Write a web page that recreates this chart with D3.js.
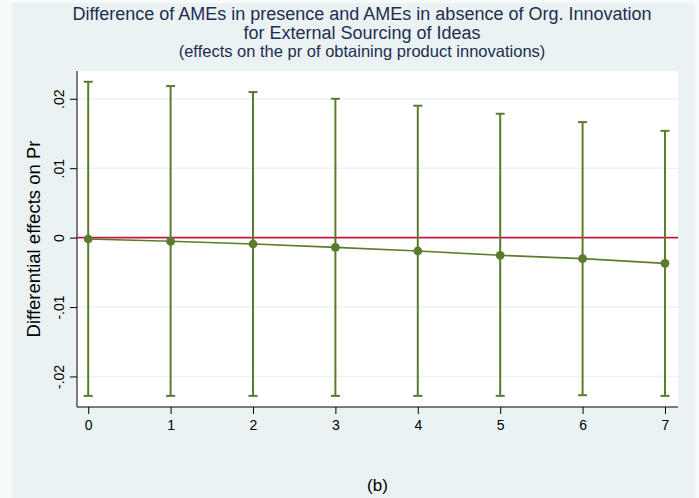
<!DOCTYPE html>
<html>
<head>
<meta charset="utf-8">
<script src="https://cdn.jsdelivr.net/npm/d3@7"></script>
<style>
  body { margin: 0; background: #f6fafb; }
  text { font-family: "Liberation Sans", Arial, sans-serif; }
</style>
</head>
<body>
<div id="container"></div>
<script>
/* DATA */
const xValues = [0, 1, 2, 3, 4, 5, 6, 7];
const estimates = [-0.0002, -0.00053, -0.00092, -0.0014, -0.00193, -0.00255, -0.00303, -0.00371];
const upperCI = [0.02245, 0.02183, 0.02097, 0.0200, 0.0190, 0.01784, 0.01664, 0.01538];
const lowerCI = [-0.0228, -0.0228, -0.0228, -0.0228, -0.0228, -0.0228, -0.0227, -0.0228];
const yTicks = [-0.02, -0.01, 0, 0.01, 0.02];
const yTickLabels = ["-.02", "-.01", "0", ".01", ".02"];
const titleLines = [
  "Difference of AMEs in presence and AMEs in absence of Org. Innovation",
  "for External Sourcing of Ideas"
];
const subtitle = "(effects on the pr of obtaining product innovations)";
const yTitle = "Differential effects on Pr";
const note = "(b)";

/* CONSTANTS */
const width = 699, height = 498;
const plot = { left: 77, right: 678, top: 71, bottom: 407 };
const green = "#5b7c2d", red = "#c8173d", bg = "#eaf2f3";

const svg = d3.select("#container").append("svg")
  .attr("width", width).attr("height", height);

// graph region
svg.append("rect").attr("x", 12).attr("y", 3).attr("width", 683).attr("height", 495)
  .attr("fill", bg);
// plot region
svg.append("rect").attr("x", plot.left).attr("y", plot.top)
  .attr("width", plot.right - plot.left).attr("height", plot.bottom - plot.top)
  .attr("fill", "#ffffff");

// SCALES
const x = d3.scaleLinear().domain([-0.136, 7.158]).range([plot.left, plot.right]);
const y = d3.scaleLinear().domain([-0.0244, 0.0240]).range([plot.bottom, plot.top]);

// GRIDLINES
svg.append("g").selectAll("line").data(yTicks.filter(d => d !== 0)).join("line")
  .attr("x1", plot.left).attr("x2", plot.right)
  .attr("y1", d => y(d)).attr("y2", d => y(d))
  .attr("stroke", bg).attr("stroke-width", 1.5);

// AXES
const xAxis = svg.append("g").attr("transform", `translate(0,${plot.bottom})`)
  .call(d3.axisBottom(x).tickValues(xValues).tickSize(7).tickPadding(6).tickFormat(d3.format("d")));
const yAxis = svg.append("g").attr("transform", `translate(${plot.left},0)`)
  .call(d3.axisLeft(y).tickValues(yTicks).tickSize(7).tickFormat((d, i) => yTickLabels[i]));
[xAxis, yAxis].forEach(g => {
  g.attr("font-size", 14).attr("font-family", "Liberation Sans, Arial, sans-serif");
  g.select(".domain").attr("stroke", "#000").attr("stroke-width", 1);
  g.selectAll(".tick line").attr("stroke", "#000");
  g.selectAll(".tick text").attr("fill", "#000").attr("font-size", 14);
});
xAxis.select(".domain").attr("d", `M${plot.left},0H${plot.right}`);
yAxis.select(".domain").attr("d", `M0,${plot.top}V${plot.bottom}`);
yAxis.selectAll(".tick text")
  .attr("transform", "rotate(-90)")
  .attr("x", 0).attr("y", -13)
  .attr("dy", "0")
  .attr("text-anchor", "middle");

// ZERO LINE
svg.append("line")
  .attr("x1", plot.left).attr("x2", plot.right)
  .attr("y1", y(0)).attr("y2", y(0))
  .attr("stroke", red).attr("stroke-width", 1.6);

// ERROR BARS
const bars = svg.append("g").attr("stroke", green).attr("stroke-width", 2);
xValues.forEach((xv, i) => {
  bars.append("line").attr("x1", x(xv)).attr("x2", x(xv))
    .attr("y1", y(upperCI[i])).attr("y2", y(lowerCI[i]));
  [upperCI[i], lowerCI[i]].forEach(v => {
    bars.append("line").attr("x1", x(xv) - 4.5).attr("x2", x(xv) + 4.5)
      .attr("y1", y(v)).attr("y2", y(v));
  });
});

// LINE + MARKERS
const line = d3.line().x((d, i) => x(xValues[i])).y(d => y(d));
svg.append("path").datum(estimates).attr("d", line)
  .attr("fill", "none").attr("stroke", green).attr("stroke-width", 1.6);
svg.append("g").selectAll("circle").data(estimates).join("circle")
  .attr("cx", (d, i) => x(xValues[i])).attr("cy", d => y(d)).attr("r", 4.4)
  .attr("fill", green);

// TITLES
const titleX = 362;
svg.append("g").selectAll("text").data(titleLines).join("text")
  .attr("x", titleX).attr("y", (d, i) => 20 + i * 19)
  .attr("text-anchor", "middle").attr("fill", "#1f2d50")
  .style("font-size", "18px").text(d => d);
svg.append("text").attr("x", titleX).attr("y", 57)
  .attr("text-anchor", "middle").attr("fill", "#1f2d50")
  .style("font-size", "16.5px").text(subtitle);

svg.append("text")
  .attr("transform", `translate(39.5,${(plot.top + plot.bottom) / 2}) rotate(-90)`)
  .attr("text-anchor", "middle").attr("fill", "#000")
  .style("font-size", "18.5px").text(yTitle);

svg.append("text").attr("x", (plot.left + plot.right) / 2).attr("y", 491)
  .attr("text-anchor", "middle").attr("fill", "#000")
  .style("font-size", "17px").text(note);
</script>
</body>
</html>
